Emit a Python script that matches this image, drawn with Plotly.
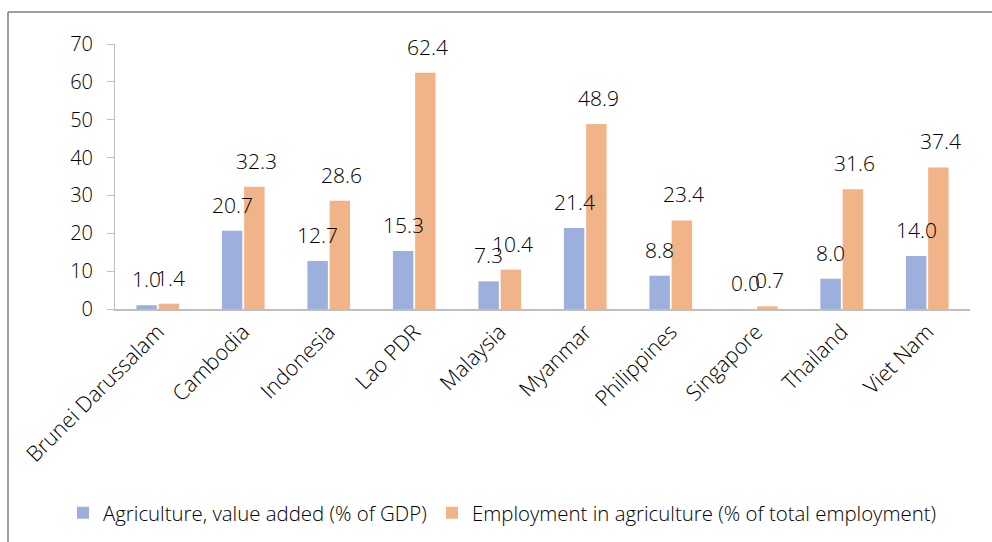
import plotly.graph_objects as go

countries = ["Brunei Darussalam", "Cambodia", "Indonesia", "Lao PDR", "Malaysia",
             "Myanmar", "Philippines", "Singapore", "Thailand", "Viet Nam"]
agri_gdp = [1.0, 20.7, 12.7, 15.3, 7.3, 21.4, 8.8, 0.0, 8.0, 14.0]
agri_emp = [1.4, 32.3, 28.6, 62.4, 10.4, 48.9, 23.4, 0.7, 31.6, 37.4]
y_ticks = [0, 10, 20, 30, 40, 50, 60, 70]

FONT = "Open Sans"
W = 300
TXT = "#000000"
L, R, T, B = 115, 22, 44, 233
PW, PH = 992 - L - R, 542 - T - B

fig = go.Figure()
fig.add_trace(go.Bar(
    x=countries, y=agri_gdp, name="Agriculture, value added (% of GDP)",
    marker=dict(color="#9DB0DD", line=dict(width=0)), legend="legend",
))
fig.add_trace(go.Bar(
    x=countries, y=agri_emp, name="Employment in agriculture (% of total employment)",
    marker=dict(color="#F1B388", line=dict(width=0)), legend="legend2",
))

annotations = []
for series, shift in ((agri_gdp, -11), (agri_emp, 13)):
    for c, v in zip(countries, series):
        annotations.append(dict(
            x=c, y=v, xref="x", yref="y", text=f"{v:.1f}", showarrow=False,
            xshift=shift, yshift=26, yanchor="middle", xanchor="center",
            font=dict(size=21, color=TXT, family=FONT, weight=W),
        ))

leg_common = dict(orientation="h", xref="container", yref="container",
                  xanchor="left", y=1 - 513 / 542, yanchor="middle",
                  font=dict(size=20.4, color=TXT, family=FONT, weight=W),
                  bgcolor="rgba(0,0,0,0)")

fig.update_layout(
    width=992, height=542,
    margin=dict(l=L, r=R, t=T, b=B, autoexpand=False),
    paper_bgcolor="white", plot_bgcolor="white",
    barmode="group", bargap=0.48, bargroupgap=0.08,
    font=dict(family=FONT, size=18, color=TXT, weight=W),
    showlegend=True,
    legend=dict(x=63 / 992, **leg_common),
    legend2=dict(x=432 / 992, **leg_common),
    xaxis=dict(tickangle=-45, showline=True, linecolor="#BFBFBF", linewidth=1.5,
               ticks="", showgrid=False, automargin=False,
               tickfont=dict(size=21.5, color=TXT, family=FONT, weight=W)),
    yaxis=dict(range=[0, 70], tickvals=y_ticks, showline=True, linecolor="#BFBFBF",
               linewidth=1, ticks="outside", ticklen=7, tickcolor="#BFBFBF",
               ticklabelstandoff=10,
               showgrid=False, zeroline=False, automargin=False,
               tickfont=dict(size=20, color=TXT, family=FONT, weight=W)),
    annotations=annotations,
)
xl = (8 - L) / PW
yt = (542 - B - 12) / PH
fig.add_shape(type="line", xref="paper", yref="paper", x0=xl, x1=(992 - L) / PW,
              y0=yt, y1=yt, line=dict(color="#7F7F7F", width=1.5))
fig.add_shape(type="line", xref="paper", yref="paper", x0=xl, x1=xl,
              y0=yt, y1=-B / PH, line=dict(color="#7F7F7F", width=1.5))
fig.write_html("out.html")
